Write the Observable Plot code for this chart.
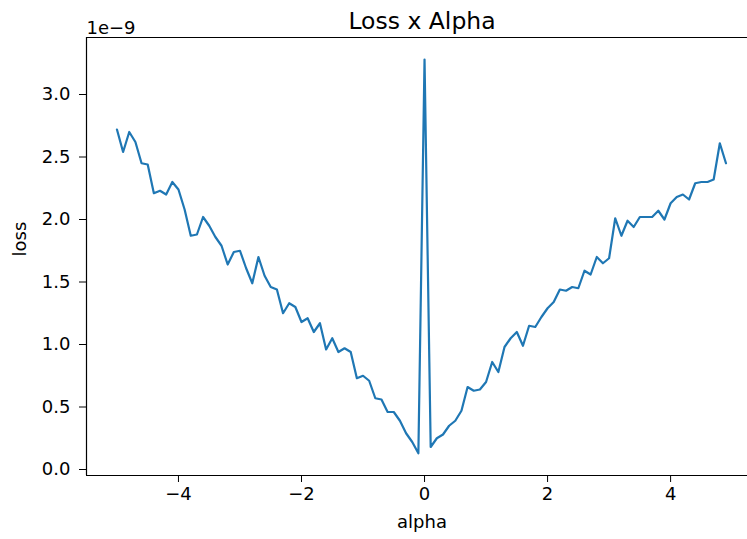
<!DOCTYPE html>
<html>
<head>
<meta charset="utf-8">
<script src="https://cdn.jsdelivr.net/npm/d3@7"></script>
<script src="https://cdn.jsdelivr.net/npm/@observablehq/plot@0.6"></script>
<style>
  html, body { margin: 0; padding: 0; background: #fff; }
  svg { display: block; }
</style>
</head>
<body>
<div id="chart"></div>
<script>
const alpha = [
  -5.0, -4.9, -4.8, -4.7, -4.6, -4.5, -4.4, -4.3, -4.2, -4.1,
  -4.0, -3.9, -3.8, -3.7, -3.6, -3.5, -3.4, -3.3, -3.2, -3.1,
  -3.0, -2.9, -2.8, -2.7, -2.6, -2.5, -2.4, -2.3, -2.2, -2.1,
  -2.0, -1.9, -1.8, -1.7, -1.6, -1.5, -1.4, -1.3, -1.2, -1.1,
  -1.0, -0.9, -0.8, -0.7, -0.6, -0.5, -0.4, -0.3, -0.2, -0.1,
  0.0, 0.1, 0.2, 0.3, 0.4, 0.5, 0.6, 0.7, 0.8, 0.9,
  1.0, 1.1, 1.2, 1.3, 1.4, 1.5, 1.6, 1.7, 1.8, 1.9,
  2.0, 2.1, 2.2, 2.3, 2.4, 2.5, 2.6, 2.7, 2.8, 2.9,
  3.0, 3.1, 3.2, 3.3, 3.4, 3.5, 3.6, 3.7, 3.8, 3.9,
  4.0, 4.1, 4.2, 4.3, 4.4, 4.5, 4.6, 4.7, 4.8, 4.9
];
// loss values in units of 1e-9
const loss = [
  2.72, 2.54, 2.70, 2.62, 2.45, 2.44, 2.21, 2.23, 2.20, 2.30,
  2.24, 2.08, 1.87, 1.88, 2.02, 1.95, 1.86, 1.79, 1.64, 1.74,
  1.75, 1.61, 1.49, 1.70, 1.55, 1.46, 1.44, 1.25, 1.33, 1.30,
  1.18, 1.21, 1.10, 1.17, 0.96, 1.05, 0.94, 0.97, 0.94, 0.73,
  0.75, 0.71, 0.57, 0.56, 0.46, 0.46, 0.39, 0.29, 0.22, 0.13,
  3.28, 0.18, 0.25, 0.28, 0.35, 0.39, 0.47, 0.66, 0.63, 0.64,
  0.70, 0.86, 0.78, 0.98, 1.05, 1.10, 0.99, 1.15, 1.14, 1.22,
  1.29, 1.34, 1.44, 1.43, 1.46, 1.45, 1.59, 1.56, 1.70, 1.65,
  1.69, 2.01, 1.87, 1.99, 1.94, 2.02, 2.02, 2.02, 2.07, 2.00,
  2.13, 2.18, 2.20, 2.16, 2.29, 2.30, 2.30, 2.32, 2.61, 2.45
];
const xTicks = [-4, -2, 0, 2, 4];
const yTicks = [0.0, 0.5, 1.0, 1.5, 2.0, 2.5, 3.0];
const title = "Loss x Alpha";
const xLabel = "alpha";
const yLabel = "loss";
const offsetLabel = "1e\u22129";

const data = alpha.map((a, i) => ({alpha: a, loss: loss[i]}));
const xDomain = [-5.495, 5.25];
const yDomain = [-0.048, 3.456];

const fmtX = d3.format("d");
const fmtY = d3.format(".1f");

const chart = Plot.plot({
  width: 747,
  height: 539,
  marginLeft: 86,
  marginRight: 0,
  marginTop: 37,
  marginBottom: 64,
  style: {fontFamily: "DejaVu Sans", fontSize: "18px", color: "#000", background: "#fff"},
  x: {domain: xDomain, ticks: xTicks, tickFormat: fmtX, tickSize: 7, tickPadding: 5, label: null},
  y: {domain: yDomain, ticks: yTicks, tickFormat: fmtY, tickSize: 7, tickPadding: 9, label: null},
  marks: [
    Plot.line(data, {x: "alpha", y: "loss", stroke: "#1f77b4", strokeWidth: 2.2}),
    Plot.ruleX([xDomain[0]], {stroke: "#000", strokeWidth: 1.2}),
    Plot.ruleY([yDomain[0], yDomain[1]], {stroke: "#000", strokeWidth: 1.2}),
    Plot.text([title], {frameAnchor: "top", dx: 5, dy: -9, lineAnchor: "bottom", fontSize: 23.5, fill: "#000"}),
    Plot.text([offsetLabel], {frameAnchor: "top-left", textAnchor: "start", dy: -4, lineAnchor: "bottom", fill: "#000"}),
    Plot.text([xLabel], {frameAnchor: "bottom", dx: 5, dy: 40, lineAnchor: "top", fill: "#000"}),
    Plot.text([yLabel], {frameAnchor: "left", dx: -66, rotate: -90, lineAnchor: "middle", fill: "#000"})
  ]
});
document.getElementById("chart").appendChild(chart);
</script>
</body>
</html>
